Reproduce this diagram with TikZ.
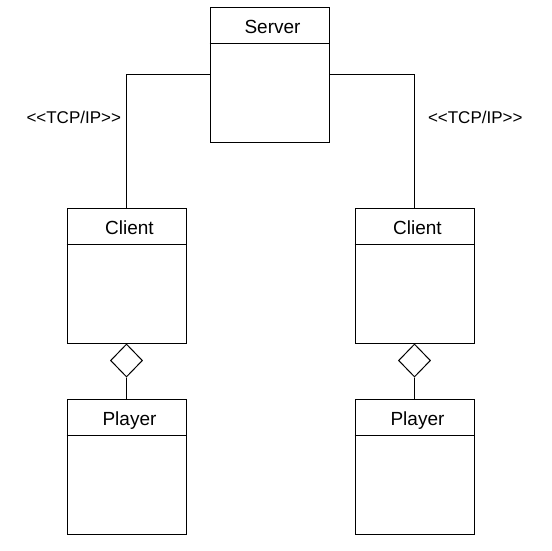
\documentclass[tikz,border=0pt]{standalone}
\usepackage{fontspec}
\setmainfont{Liberation Sans}
\usetikzlibrary{shapes.geometric, positioning}

\begin{document}
\begin{tikzpicture}[x=1pt, y=-1pt, line width=1pt,
		classbox/.style={rectangle, draw, minimum width=119pt, minimum height=135pt, inner sep=0pt},
		classname/.style={font=\fontsize{19}{22}\selectfont, inner sep=0pt, anchor=base},
		agg/.style={diamond, draw, fill=white, minimum width=32pt, minimum height=33pt, inner sep=0pt},
		stereo/.style={font=\fontsize{17}{20}\selectfont}]
		
		\useasboundingbox (0,0) rectangle (552,550);
		
		\node (server) [classbox] at (269.5,74.5) {};
		\node (clientl) [classbox, below left=65pt and 23pt of server] {};
		\node (clientr) [classbox, below right=65pt and 25pt of server] {};
		\node (playerl) [classbox, below=55pt of clientl] {};
		\node (playerr) [classbox, below=55pt of clientr] {};
		
		% class names and header lines
		\foreach \n/\t in {server/Server, clientl/Client, clientr/Client, playerl/Player, playerr/Player} {
			\draw ([yshift=-37pt]\n.north west) -- ([yshift=-37pt]\n.north east);
			\node [classname] at ([xshift=3pt, yshift=-26.5pt]\n.north) {\t};
		}
		
		\draw (server.west) -| node[stereo, pos=0.66, left, inner sep=5pt] {<\kern0pt<TCP/IP>\kern0pt>} (clientl.north);
		\draw (server.east) -| node[stereo, pos=0.66, right, inner sep=0pt, xshift=13pt] {<\kern0pt<TCP/IP>\kern0pt>} (clientr.north);
		
		% aggregation
		\node (dmdl) [agg, below=0pt of clientl] {};
		\node (dmdr) [agg, below=0pt of clientr] {};
		\draw (dmdl.south) -- (playerl.north);
		\draw (dmdr.south) -- (playerr.north);
	\end{tikzpicture}
\end{document}
